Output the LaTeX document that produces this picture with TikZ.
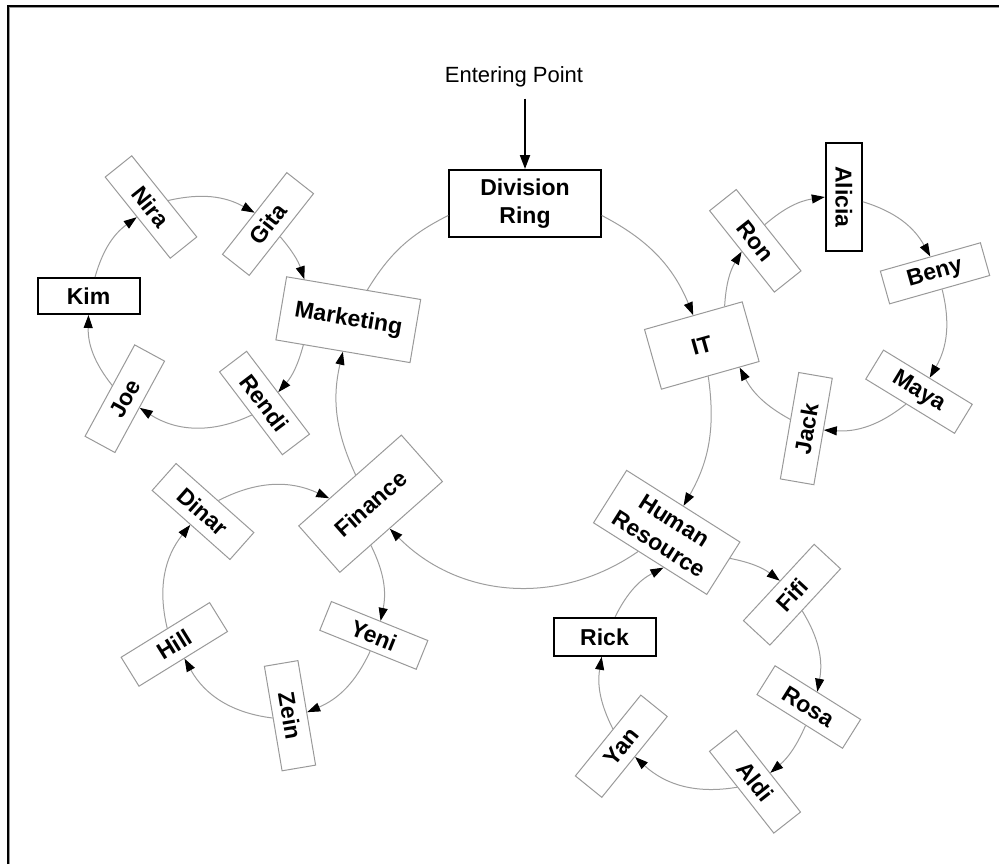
\documentclass[tikz,border=0pt]{standalone}
\usepackage{fontspec}
\setmainfont{Liberation Sans}
\usetikzlibrary{arrows.meta,calc}
\definecolor{boxgray}{gray}{0.6}
\definecolor{linegray}{gray}{0.62}
\begin{document}
\begin{tikzpicture}[x=0.5pt,y=0.5pt,
  box/.style={draw=boxgray,line width=0.5pt,inner sep=0pt,align=center,font=\fontsize{11.5}{14}\selectfont\bfseries},
  namebox/.style={box,minimum width=52pt,minimum height=17pt},
  keybox/.style={box,draw=black,line width=1pt},
  deptbox/.style={box,minimum height=31pt},
  conn/.style={draw=linegray,line width=0.5pt,-{Triangle[length=6.5pt,width=4.5pt,color=black]}},
  ringline/.style={draw=linegray,line width=0.5pt},
  eparrow/.style={draw=black,line width=1pt,-{Triangle[length=7pt,width=5pt]}},
  frameline/.style={draw=black,line width=1pt},
  frameshade/.style={draw=black!40,line width=0.5pt},
]
\useasboundingbox (0,0) rectangle (999,864);
% frame
\draw[frameline] (8,0) -- (8,858) -- (999,858);
\draw[frameshade] (9.7,0) -- (9.7,856.3) -- (999,856.3);

% entering point and division ring
\node[font=\fontsize{11}{13}\selectfont,anchor=base,inner ysep=5.6pt] (ep) at (514,781.5) {Entering Point};
\node[keybox,minimum width=75.7pt,minimum height=33.3pt] (dr) at (525,660.7) {Division\\Ring};
\draw[eparrow] (ep.south -| dr.north) -- (dr.north);

% departments
\node[deptbox,minimum width=68pt,minimum height=32pt,rotate=-9.6] (mkt) at (348.3,544.3) {Marketing};
\node[deptbox,minimum width=50.75pt,rotate=15.8] (it) at (701.8,518.5) {IT};
\node[deptbox,minimum width=67pt,rotate=-32.3] (hr) at (666.7,331.6) {Human\\Resource};
\node[deptbox,minimum width=68.5pt,rotate=41.5] (fin) at (370.6,360.3) {Finance};

% marketing ring
\node[namebox,rotate=-51.3] (nira) at (151,657) {Nira};
\node[namebox,rotate=51.8] (gita) at (268,640) {Gita};
\node[namebox,rotate=-52.8] (rendi) at (264.5,461) {Rendi};
\node[namebox,rotate=61.5] (joe) at (124.8,465.3) {Joe};
\node[keybox,minimum width=51pt,minimum height=18pt] (kim) at (88.5,568) {Kim};

% IT ring
\node[namebox,rotate=-51.5] (ron) at (755.3,623.2) {Ron};
\node[keybox,minimum width=53.5pt,minimum height=18pt,rotate=-90] (alicia) at (843.8,667) {Alicia};
\node[namebox,rotate=15.8] (beny) at (935,590.7) {Beny};
\node[namebox,rotate=-31.4] (maya) at (919,472.3) {Maya};
\node[namebox,minimum width=54pt,rotate=80.2] (jack) at (806.3,435.4) {Jack};

% HR ring
\node[namebox,minimum height=18pt,rotate=47.2] (fifi) at (792,269.3) {Fifi};
\node[namebox,minimum width=50.5pt,rotate=-32.1] (rosa) at (808.8,157) {Rosa};
\node[namebox,rotate=-51.8] (aldi) at (755,82.3) {Aldi};
\node[namebox,rotate=51] (yan) at (621.3,117.8) {Yan};
\node[keybox,minimum width=51pt,minimum height=19pt] (rick) at (604.5,227.2) {Rick};

% finance ring
\node[namebox,minimum height=15.5pt,rotate=-22] (yeni) at (373.8,228.6) {Yeni};
\node[namebox,minimum width=53pt,rotate=-80.4] (zein) at (290,148.3) {Zein};
\node[namebox,rotate=31.7] (hill) at (174.3,219.6) {Hill};
\node[namebox,minimum height=18pt,rotate=-41.6] (dinar) at (203,352.5) {Dinar};

% main ring
\draw[conn] (dr.-9) to[bend left=20] (it.90);
\draw[conn] (it.-94) to[bend left=19] (hr.90);
\draw[conn] (hr.-114) to[bend left=40] (fin.-94);
\draw[conn] (fin.76) to[bend left=19] (mkt.-90);
\draw[ringline] (mkt.67) to[bend left=16] (dr.-171);

% marketing ring connectors
\draw[conn] (nira.72) to[bend left=21] (gita.88);
\draw[conn] (gita.-98) to[bend left=11] (mkt.147);
\draw[conn] (mkt.219) to[bend left=13] (rendi.91);
\draw[conn] (rendi.-84) to[bend left=29] (joe.-93);
\draw[conn] (joe.72) to[bend left=20] (kim.-90);
\draw[conn] (kim.71) to[bend left=19] (nira.-93);

% IT ring connectors
\draw[conn] (it.44) to[bend left=14] (ron.-90);
\draw[conn] (ron.111) to[bend left=16] (alicia.-90);
\draw[conn] (alicia.76) to[bend left=22] (beny.90);
\draw[conn] (beny.-82) to[bend left=22] (maya.84);
\draw[conn] (maya.-105) to[bend left=21] (jack.-85);
\draw[conn] (jack.70) to[bend left=17] (it.-46);

% HR ring connectors
\draw[conn] (hr.10) to[bend left=13] (fifi.84);
\draw[conn] (fifi.-105) to[bend left=21] (rosa.93);
\draw[conn] (rosa.-68) to[bend left=13] (aldi.82);
\draw[conn] (aldi.-111) to[bend left=26] (yan.-89);
\draw[conn] (yan.65) to[bend left=18] (rick.-98);
\draw[conn] (rick.62) to[bend left=18] (hr.-63);

% finance ring connectors
\draw[conn] (dinar.77) to[bend left=26] (fin.131);
\draw[conn] (fin.-131) to[bend left=19] (yeni.87);
\draw[conn] (yeni.-81) to[bend left=21] (zein.92);
\draw[conn] (zein.-92) to[bend left=27] (hill.-86);
\draw[conn] (hill.82) to[bend left=26] (dinar.-92);
\end{tikzpicture}
\end{document}
